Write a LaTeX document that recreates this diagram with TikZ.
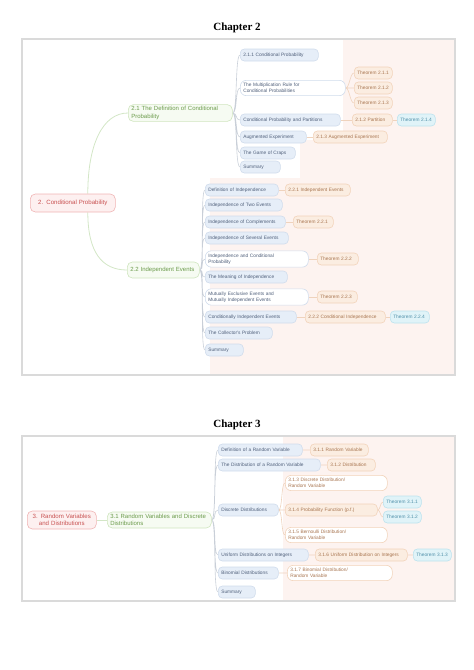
\documentclass[tikz,border=0pt]{standalone}
\usepackage{fontspec}
\setmainfont{Liberation Serif}
\newfontfamily\mapfont{Liberation Sans}
\usepackage{tikz}
\usetikzlibrary{backgrounds}
\definecolor{framegray}{HTML}{DADADA}
\definecolor{pinkbg}{HTML}{FDF3F0}
\definecolor{rootdraw}{HTML}{F0B4B4}
\definecolor{rootfill}{HTML}{FDF0F0}
\definecolor{roottext}{HTML}{C85050}
\definecolor{secdraw}{HTML}{CFE5BE}
\definecolor{secfill}{HTML}{F6FBF2}
\definecolor{sectext}{HTML}{6B9B4B}
\definecolor{leafdraw}{HTML}{D0DCEC}
\definecolor{leaffill}{HTML}{E6EEF8}
\definecolor{leaftext}{HTML}{4F5F7A}
\definecolor{thmdraw}{HTML}{F2D3BA}
\definecolor{thmfill}{HTML}{FBEDE1}
\definecolor{thmtext}{HTML}{A87550}
\definecolor{extdraw}{HTML}{BCE2EE}
\definecolor{extfill}{HTML}{E0F3F8}
\definecolor{exttext}{HTML}{4F8FA8}
\definecolor{linkgray}{HTML}{C9CFD8}
\definecolor{stemgreen}{HTML}{D3E6C6}
\definecolor{thmlink}{HTML}{EFD3BD}

\begin{document}
\begin{tikzpicture}[x=1pt, y=-1pt,
  box/.style={rounded corners=4pt, line width=0.6pt, inner xsep=3pt, inner ysep=2pt,
    minimum height=12pt, anchor=west, align=left,
    font=\mapfont\fontsize{4.8}{5.8}\selectfont},
  root/.style={box, draw=rootdraw, fill=rootfill, text=roottext, text width=#1,
    align=center, minimum height=18pt, rounded corners=5pt,
    font=\mapfont\fontsize{6.1}{7.3}\selectfont},
  sec/.style={box, draw=secdraw, fill=secfill, text=sectext, text width=#1,
    minimum height=16pt, rounded corners=5pt,
    font=\mapfont\fontsize{6}{7.2}\selectfont},
  leaf/.style={box, draw=leafdraw, fill=leaffill, text=leaftext, text width=#1},
  leafw/.style={box, draw=leafdraw, fill=white, text=leaftext, text width=#1,
    inner ysep=3pt, rounded corners=6pt},
  thm/.style={box, draw=thmdraw, fill=thmfill, text=thmtext, text width=#1},
  thmw/.style={box, draw=thmdraw, fill=white, text=thmtext, text width=#1,
    inner ysep=3pt, rounded corners=6pt},
  ext/.style={box, draw=extdraw, fill=extfill, text=exttext, text width=#1},
  link/.style={draw=linkgray, line width=0.6pt},
  stem/.style={draw=stemgreen, line width=0.8pt},
  tlink/.style={draw=thmlink, line width=0.6pt},
  fan/.style={to path={.. controls +(#1,0) and +(-#1,0) .. (\tikztotarget)}}]
  \useasboundingbox (0,0) rectangle (474,670);

  % Titles
  \node[font=\fontsize{11}{13}\selectfont\bfseries] (title1) at (237,28) {Chapter 2};
  \node[font=\fontsize{11}{13}\selectfont\bfseries] (title2) at (237,425) {Chapter 3};

  % ---------------- Chapter 2 ----------------
  \node[root=79pt] (root1) at (30,203) {2. Conditional Probability};
  \node[sec=98pt] (s11) at (128,113) {2.1 The Definition of Conditional\\Probability};
  \node[sec=66pt] (s12) at (127,270) {2.2 Independent Events};

  % 2.1 leaves
  \node[leaf=72pt] (a1) at (240,55) {2.1.1 Conditional Probability};
  \node[leafw=99pt] (a2) at (240,88) {The Multiplication Rule for\\Conditional Probabilities};
  \node[leaf=94pt] (a3) at (240,120) {Conditional Probability and Partitions};
  \node[leaf=60pt] (a4) at (240,137) {Augmented Experiment};
  \node[leaf=49pt] (a5) at (240,153) {The Game of Craps};
  \node[leaf=34pt] (a6) at (240,167) {Summary};

  \node[thm=32pt] (o1) at (354,73) {Theorem 2.1.1};
  \node[thm=32pt] (o2) at (354,88) {Theorem 2.1.2};
  \node[thm=32pt] (o3) at (354,103) {Theorem 2.1.3};
  \node[thm=34pt] (o4) at (352,120) {2.1.2 Partition};
  \node[ext=32pt] (b1) at (397,120) {Theorem 2.1.4};
  \node[thm=68pt] (o5) at (313,137) {2.1.3 Augmented Experiment};

  % 2.2 leaves
  \node[leaf=67pt] (c1) at (205,190) {Definition of Independence};
  \node[leaf=71pt] (c2) at (205,205) {Independence of Two Events};
  \node[leaf=74pt] (c3) at (205,222) {Independence of Complements};
  \node[leaf=77pt] (c4) at (205,238) {Independence of Several Events};
  \node[leafw=97pt] (c5) at (205,259) {Independence and Conditional\\Probability};
  \node[leaf=76pt] (c6) at (205,277) {The Meaning of Independence};
  \node[leafw=97pt] (c7) at (205,297) {Mutually Exclusive Events and\\Mutually Independent Events};
  \node[leaf=85pt] (c8) at (205,317) {Conditionally Independent Events};
  \node[leaf=61pt] (c9) at (205,333) {The Collector's Problem};
  \node[leaf=32pt] (c10) at (205,350) {Summary};

  \node[thm=59pt] (p1) at (285,190) {2.2.1 Independent Events};
  \node[thm=34pt] (p2) at (293,222) {Theorem 2.2.1};
  \node[thm=35pt] (p3) at (317,259) {Theorem 2.2.2};
  \node[thm=34pt] (p4) at (317,297) {Theorem 2.2.3};
  \node[thm=74pt] (p5) at (305,317) {2.2.2 Conditional Independence};
  \node[ext=33pt] (q1) at (390,317) {Theorem 2.2.4};

  % ---------------- Chapter 3 ----------------
  \node[root=63pt] (root2) at (27,520) {3. Random Variables\\and Distributions};
  \node[sec=98pt] (s21) at (107,520) {3.1 Random Variables and Discrete\\Distributions};

  \node[leaf=78pt] (d1) at (218,450) {Definition of a Random Variable};
  \node[leaf=96pt] (d2) at (218,465) {The Distribution of a Random Variable};
  \node[leaf=54pt] (d3) at (218,510) {Discrete Distributions};
  \node[leaf=84pt] (d4) at (218,555) {Uniform Distributions on Integers};
  \node[leaf=54pt] (d5) at (218,573) {Binomial Distributions};
  \node[leaf=31pt] (d6) at (218,592) {Summary};

  \node[thm=52pt] (e1) at (310,450) {3.1.1 Random Variable};
  \node[thm=42pt] (e2) at (327,465) {3.1.2 Distribution};
  \node[thmw=96pt] (e3) at (285,483) {3.1.3 Discrete Distribution/\\Random Variable};
  \node[thm=86pt] (e4) at (285,510) {3.1.4 Probability Function (p.f.)};
  \node[thmw=96pt] (e5) at (285,535) {3.1.5 Bernoulli Distribution/\\Random Variable};
  \node[thm=86pt] (e6) at (315,555) {3.1.6 Uniform Distribution on Integers};
  \node[thmw=99pt] (e7) at (287,573) {3.1.7 Binomial Distribution/\\Random Variable};

  \node[ext=32pt] (f1) at (383,502) {Theorem 3.1.1};
  \node[ext=32pt] (f2) at (383,517) {Theorem 3.1.2};
  \node[ext=32pt] (f3) at (413,555) {Theorem 3.1.3};

  \begin{scope}[on background layer]
    % Frames and shaded parts
    \fill[pinkbg] (343,39) rectangle (455,375);
    \fill[pinkbg] (300,140) rectangle (343,375);
    \fill[pinkbg] (210,178) rectangle (300,375);
    \fill[pinkbg] (283,436) rectangle (455,601);
    \draw[framegray, line width=1.3pt] (22,39) rectangle (455,375);
    \draw[framegray, line width=1.3pt] (22,436) rectangle (455,601);

    % Root branches
    \draw[stem] ([xshift=15pt]root1.north) .. controls +(0,-50) and +(-25,0) .. (s11.west);
    \draw[stem] ([xshift=15pt]root1.south) .. controls +(0,40) and +(-25,0) .. (s12.west);
    \draw[stem] (root2.east) -- (s21.west);

    % 2.1 branches
    \draw[link] (s11.east) to[fan=5] (a1.west) (s11.east) to[fan=5] (a2.west)
      (s11.east) to[fan=5] (a3.west) (s11.east) to[fan=5] (a4.west)
      (s11.east) to[fan=5] (a5.west) (s11.east) to[fan=5] (a6.west);
    \draw[tlink] (a2.east) to[fan=4] (o1.west) (a2.east) to[fan=4] (o2.west)
      (a2.east) to[fan=4] (o3.west);
    \draw[tlink] (a3.east) -- (o4.west) (o4.east) -- (b1.west);
    \draw[tlink] (a4.east) -- (o5.west);

    % 2.2 branches
    \draw[link] (s12.east) to[fan=5] (c1.west) (s12.east) to[fan=5] (c2.west)
      (s12.east) to[fan=5] (c3.west) (s12.east) to[fan=5] (c4.west)
      (s12.east) to[fan=5] (c5.west) (s12.east) to[fan=5] (c6.west)
      (s12.east) to[fan=5] (c7.west) (s12.east) to[fan=5] (c8.west)
      (s12.east) to[fan=5] (c9.west) (s12.east) to[fan=5] (c10.west);
    \draw[tlink] (c1.east) -- (p1.west) (c3.east) -- (p2.west)
      (c5.east) -- (p3.west) (c7.east) -- (p4.west)
      (c8.east) -- (p5.west) (p5.east) -- (q1.west);

    % 3.1 branches
    \draw[link] (s21.east) to[fan=5] (d1.west) (s21.east) to[fan=5] (d2.west)
      (s21.east) to[fan=5] (d3.west) (s21.east) to[fan=5] (d4.west)
      (s21.east) to[fan=5] (d5.west) (s21.east) to[fan=5] (d6.west);
    \draw[tlink] (d1.east) -- (e1.west) (d2.east) -- (e2.west)
      (d3.east) to[fan=4] (e3.west) (d3.east) to[fan=4] (e4.west)
      (d3.east) to[fan=4] (e5.west)
      (e4.east) to[fan=3] (f1.west) (e4.east) to[fan=3] (f2.west)
      (d4.east) -- (e6.west) (e6.east) -- (f3.west)
      (d5.east) -- (e7.west);
  \end{scope}
\end{tikzpicture}
\end{document}
